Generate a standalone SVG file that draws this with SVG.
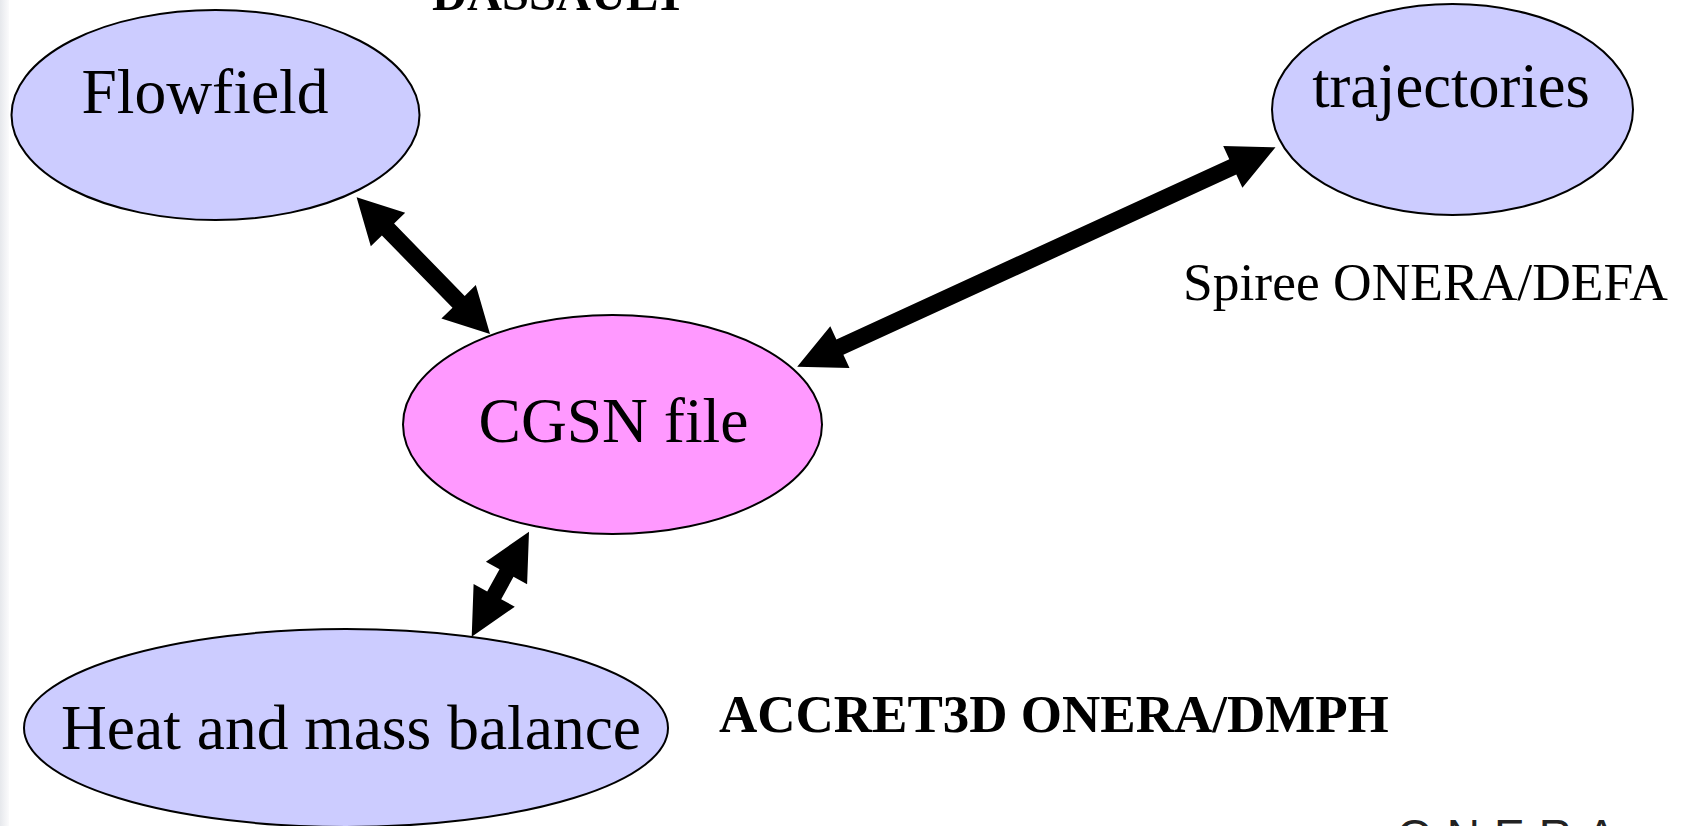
<svg xmlns="http://www.w3.org/2000/svg" width="1685" height="826" viewBox="0 0 1685 826">
<defs>
<linearGradient id="edge" x1="0" y1="0" x2="1" y2="0">
<stop offset="0" stop-color="#e6e8ec"/>
<stop offset="1" stop-color="#fbfbfc"/>
</linearGradient>
<style>
.node-blue{fill:#ccccff;stroke:#000;stroke-width:2}
.node-pink{fill:#ff99ff;stroke:#000;stroke-width:2}
.lbl{font-family:"Liberation Serif","Times New Roman",serif;fill:#000}
.big{font-size:63.5px}
.note{font-size:53.5px}
.bold{font-weight:bold}
.arrow{fill:#000;stroke:none}
</style>
</defs>
<rect x="0" y="0" width="1685" height="826" fill="#fff"/>
<rect x="0" y="0" width="9" height="826" fill="url(#edge)"/>

<g id="connectors">
<polygon class="arrow" points="356.6,197.3 370.8,246.3 381.9,235.5 452.5,307.7 441.4,318.6 490,334 475.8,285 464.7,295.9 394.1,223.6 405.2,212.8"/>
<polygon class="arrow" points="1275.5,147.3 1223.2,146 1229.3,159.2 836.4,339.4 830.3,326.2 797.2,366.7 849.5,368 843.4,354.8 1236.3,174.6 1242.4,187.8"/>
<polygon class="arrow" points="529,531.7 485.9,561.7 499.5,569.2 487.2,591.6 473.6,584.1 471.7,636.7 514.8,606.7 501.2,599.2 513.5,576.8 527.1,584.3"/>
</g>

<g id="node-flowfield">
<ellipse class="node-blue" cx="215.5" cy="115" rx="204" ry="105"/>
<text class="lbl big" x="205" y="113" text-anchor="middle">Flowfield</text>
</g>

<g id="node-trajectories">
<ellipse class="node-blue" cx="1452.5" cy="109.5" rx="180.5" ry="105.5"/>
<text class="lbl" x="1451" y="107" text-anchor="middle" font-size="62.5">trajectories</text>
</g>

<g id="node-cgsn">
<ellipse class="node-pink" cx="612.5" cy="424.5" rx="209.5" ry="109.5"/>
<text class="lbl big" x="613.5" y="442" text-anchor="middle">CGSN file</text>
</g>

<g id="node-heat">
<ellipse class="node-blue" cx="346" cy="728" rx="322" ry="99"/>
<text class="lbl big" x="351" y="749" text-anchor="middle">Heat and mass balance</text>
</g>

<g id="labels">
<text class="lbl bold" x="432" y="10" font-size="48.5">DASSAULT</text>
<text class="lbl note" x="1183" y="300">Spiree ONERA/DEFA</text>
<text class="lbl bold" x="719" y="732" font-size="53">ACCRET3D ONERA/DMPH</text>
<text x="1397" y="852" font-family="'Liberation Sans',Arial,sans-serif" font-size="46" letter-spacing="14" fill="#222">ONERA</text>
</g>
</svg>
